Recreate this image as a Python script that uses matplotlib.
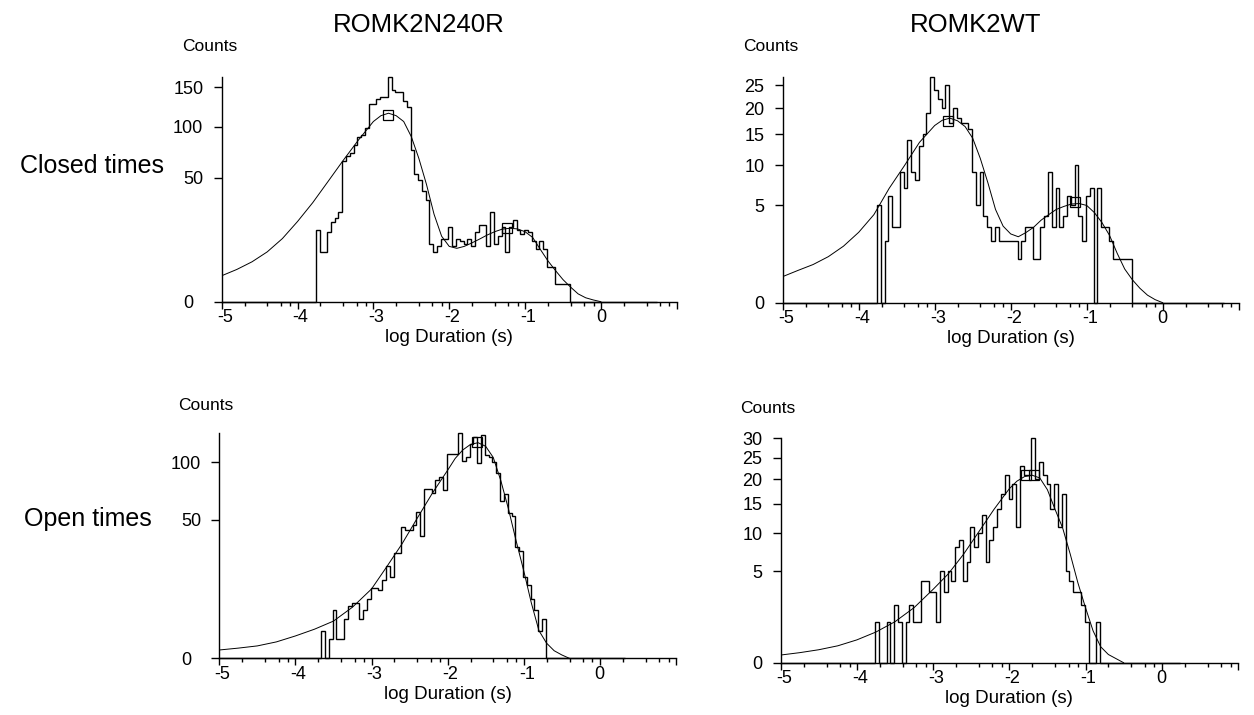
import numpy as np
import matplotlib
matplotlib.use("Agg")
import matplotlib.pyplot as plt
from matplotlib.ticker import FixedLocator, NullLocator
from matplotlib.transforms import ScaledTranslation

plt.rcParams['font.family'] = ['Liberation Sans', 'DejaVu Sans']
plt.rcParams['axes.unicode_minus'] = False

# all histograms use bins 0.05 log units wide
bin_width = 0.05

# ROMK2N240R, closed times
n240r_closed_start = -3.76
n240r_closed_counts = [17, 8, 8, 16, 21, 23, 26, 65, 69, 72, 80, 89, 91, 98, 128, 128, 134, 137, 137, 165,
                       146, 144, 144, 131, 124, 75, 53, 48, 40, 34, 11, 8, 10, 13, 13, 18, 10, 13, 12, 11,
                       13, 10, 16, 19, 19, 10, 26, 11, 14, 18, 8, 18, 22, 17, 15, 17, 16, 12, 9, 12,
                       9, 4, 4, 1, 1, 1, 1]
n240r_closed_end = 0.74
n240r_closed_fit_x = [-5.0, -4.8, -4.6, -4.4, -4.2, -4.0, -3.8, -3.6, -3.4, -3.2, -3.0, -2.9, -2.8, -2.7,
                      -2.6, -2.5, -2.4, -2.3, -2.2, -2.1, -2.0, -1.9, -1.8, -1.7, -1.6, -1.5, -1.4, -1.3,
                      -1.2, -1.1, -1.0, -0.9, -0.8, -0.7, -0.6, -0.5, -0.4, -0.3, -0.2, -0.1, 0.0]
n240r_closed_fit_y = [2.2, 3.4, 5.2, 8.1, 13, 21, 32, 47, 65, 85, 106, 113, 116, 113,
                      106, 89, 67, 45, 25, 14, 10, 9.3, 10, 11.3, 12.8, 14.5, 16, 17.2,
                      17.6, 17.3, 16, 13.5, 9, 5.5, 3.2, 1.6, 0.7, 0.2, 0.05, 0.01, 0.0]
n240r_closed_peak_x = [-2.81, -1.24]
n240r_closed_peak_y = [114, 17.9]

# ROMK2WT, closed times
wt_closed_start = -3.76
wt_closed_counts = [5, 0, 2, 6, 3, 3, 9, 7, 14, 9, 8, 13, 15, 19, 27, 24, 22, 20, 25, 17,
                    20, 18, 17, 17, 16, 9, 5, 9, 4, 3, 2, 3, 2, 2, 2, 2, 2, 1, 2, 3,
                    3, 1, 1, 3, 4, 9, 3, 7, 3, 4, 6, 5, 10, 4, 2, 6, 7, 0, 7, 3,
                    3, 2, 1, 1, 1, 1, 1]
wt_closed_end = 0.80
wt_closed_fit_x = [-5.0, -4.8, -4.6, -4.4, -4.2, -4.0, -3.8, -3.6, -3.4, -3.2, -3.0, -2.9, -2.8,
                   -2.7, -2.6, -2.5, -2.4, -2.3, -2.2, -2.1, -2.0, -1.9, -1.8, -1.7, -1.6, -1.5, -1.4,
                   -1.3, -1.2, -1.1, -1.0, -0.9, -0.8, -0.7, -0.6, -0.5, -0.4, -0.3, -0.2, -0.1, 0.0]
wt_closed_fit_y = [0.36, 0.55, 0.77, 1.12, 1.69, 2.62, 4.1, 6.9, 9.9, 13.6, 16.6, 17.6, 18.0,
                   17.5, 16.4, 14.3, 11.0, 7.6, 4.6, 3.1, 2.5, 2.3, 2.6, 3.0, 3.6, 4.1, 4.6,
                   4.9, 5.15, 5.2, 5.0, 4.3, 3.4, 2.4, 1.3, 0.6, 0.28, 0.11, 0.03, 0.005, 0.0]
wt_closed_peak_x = [-2.82, -1.16]
wt_closed_peak_y = [17.5, 5.36]

# ROMK2N240R, open times
n240r_open_start = -3.66
n240r_open_counts = [2, 0, 1, 6, 1, 1, 4, 7, 8, 8, 4, 6, 9, 13, 13, 12, 16, 22, 17, 29,
                     29, 45, 43, 43, 46, 56, 39, 75, 75, 71, 83, 86, 74, 109, 109, 109, 132, 101, 105, 120,
                     127, 99, 130, 108, 105, 100, 89, 64, 70, 55, 53, 32, 30, 17, 14, 9, 6, 2, 4]
n240r_open_end = 0.33
n240r_open_fit_x = [-5.0, -4.75, -4.5, -4.25, -4.0, -3.75, -3.5, -3.25, -3.0, -2.8, -2.6, -2.4, -2.2,
                    -2.0, -1.9, -1.8, -1.7, -1.6, -1.5, -1.4, -1.3, -1.2, -1.1, -1.0, -0.9, -0.8,
                    -0.7, -0.6, -0.5, -0.4]
n240r_open_fit_y = [0.18, 0.27, 0.4, 0.7, 1.3, 2.2, 3.6, 6.8, 12.5, 21.8, 34, 51, 71,
                    92, 104, 113, 119, 121, 117, 105, 82, 58, 36, 20, 8, 2.0,
                    0.6, 0.15, 0.03, 0.0]
n240r_open_peak_x = [-1.62]
n240r_open_peak_y = [122]

# ROMK2WT, open times
wt_open_start = -3.76
wt_open_counts = [1, 0, 0, 1, 0, 2, 1, 0, 1, 2, 1, 1, 4, 4, 3, 3, 1, 5, 3, 5,
                  4, 8, 9, 4, 6, 11, 8, 10, 13, 6, 9, 11, 14, 17, 21, 16, 19, 11, 23, 21,
                  21, 30, 20, 24, 21, 19, 14, 19, 11, 17, 5, 4, 3, 3, 2, 1, 0, 0, 1]
wt_open_end = 0.24
wt_open_fit_x = [-5.0, -4.75, -4.5, -4.25, -4.0, -3.75, -3.5, -3.25, -3.0, -2.8, -2.6, -2.4, -2.2,
                 -2.0, -1.9, -1.8, -1.7, -1.6, -1.5, -1.4, -1.3, -1.2, -1.1, -1.0, -0.9, -0.8,
                 -0.7, -0.6, -0.5]
wt_open_fit_y = [0.035, 0.06, 0.1, 0.17, 0.31, 0.56, 1.0, 1.8, 3.2, 4.7, 7.0, 10.2, 14,
                 18, 19.6, 20.6, 20.9, 20.3, 17.8, 14, 10.8, 7.0, 3.8, 1.8, 0.6, 0.15,
                 0.04, 0.01, 0.0]
wt_open_peak_x = [-1.78, -1.67]
wt_open_peak_y = [21, 21]

x_major = [-5, -4, -3, -2, -1, 0, 1]
x_major_labels = ['-5', '-4', '-3', '-2', '-1', '0', '']
x_minor = [d + np.log10(m) for d in range(-5, 1) for m in (2, 4, 6, 8)]

W, H = 1254, 715
fig = plt.figure(figsize=(W / 100, H / 100), dpi=100)


def draw_panel(rect, start, counts, hist_end, fit_x, fit_y, peak_x, peak_y, yticks, shift_zero):
    ax = fig.add_axes(rect)
    ax.set_yscale('function', functions=(lambda v: np.sqrt(np.clip(v, 0, None)), lambda v: np.square(v)))

    edges = start + bin_width * np.arange(len(counts) + 1)
    edges = np.concatenate([[-5], edges, [hist_end]])
    vals = np.concatenate([[0], counts, [0]])
    ax.stairs(vals, edges, color='black', lw=1.0, clip_on=False)
    ax.plot(fit_x, fit_y, color='black', lw=0.7)
    ax.plot(peak_x, peak_y, ls='none', marker='s', ms=6.5, mfc='none', mec='black', mew=0.9)

    ax.set_xlim(-5, 1)
    ax.set_ylim(0, max(counts))
    for s in ['top', 'right']:
        ax.spines[s].set_visible(False)
    for s in ['left', 'bottom']:
        ax.spines[s].set_linewidth(1.0)

    ax.xaxis.set_major_locator(FixedLocator(x_major))
    ax.set_xticklabels(x_major_labels)
    ax.xaxis.set_minor_locator(FixedLocator(x_minor))
    ax.yaxis.set_major_locator(FixedLocator(yticks))
    ax.yaxis.set_minor_locator(NullLocator())
    ax.set_yticklabels([str(t) for t in yticks])

    ax.tick_params(axis='x', which='major', length=5, width=1, pad=0.5, labelsize=13)
    ax.tick_params(axis='x', which='minor', length=2.8, width=1)
    ax.tick_params(axis='y', which='major', length=5.7, width=1, pad=7.5, labelsize=13)
    ax.set_xlabel('log Duration (s)', fontsize=13.5, labelpad=2)

    for lab in ax.get_xticklabels():
        if lab.get_text().startswith('-'):
            lab.set_transform(lab.get_transform() + ScaledTranslation(0.03, 0, fig.dpi_scale_trans))
    if shift_zero:
        lab0 = ax.yaxis.get_major_ticks()[0].label1
        lab0.set_transform(lab0.get_transform() + ScaledTranslation(-0.1, 0, fig.dpi_scale_trans))
    return ax


draw_panel([221.7 / W, 1 - 301.7 / H, 455 / W, 224.8 / H],
           n240r_closed_start, n240r_closed_counts, n240r_closed_end,
           n240r_closed_fit_x, n240r_closed_fit_y, n240r_closed_peak_x, n240r_closed_peak_y,
           [0, 50, 100, 150], True)
draw_panel([782.7 / W, 1 - 302.7 / H, 456 / W, 226 / H],
           wt_closed_start, wt_closed_counts, wt_closed_end,
           wt_closed_fit_x, wt_closed_fit_y, wt_closed_peak_x, wt_closed_peak_y,
           [0, 5, 10, 15, 20, 25], False)
draw_panel([219.3 / W, 1 - 658.3 / H, 456.6 / W, 225.2 / H],
           n240r_open_start, n240r_open_counts, n240r_open_end,
           n240r_open_fit_x, n240r_open_fit_y, n240r_open_peak_x, n240r_open_peak_y,
           [0, 50, 100], True)
draw_panel([780.7 / W, 1 - 662.7 / H, 457.2 / W, 224.6 / H],
           wt_open_start, wt_open_counts, wt_open_end,
           wt_open_fit_x, wt_open_fit_y, wt_open_peak_x, wt_open_peak_y,
           [0, 5, 10, 15, 20, 25, 30], False)

# titles and row labels
fig.text(419 / W, 1 - 32 / H, 'ROMK2N240R', ha='center', va='baseline', fontsize=18.5)
fig.text(976 / W, 1 - 32 / H, 'ROMK2WT', ha='center', va='baseline', fontsize=18.5)
fig.text(92 / W, 1 - 166 / H, 'Closed times', ha='center', va='center', fontsize=18)
fig.text(88 / W, 1 - 519 / H, 'Open times', ha='center', va='center', fontsize=18)

# "Counts" axis captions
for cx, cy in [(181.7, 46.7), (743, 46.7), (178.3, 405), (740, 408.3)]:
    fig.text(cx / W, 1 - cy / H, 'Counts', ha='left', va='center', fontsize=12.5)

fig.savefig('out.png', dpi=100)
